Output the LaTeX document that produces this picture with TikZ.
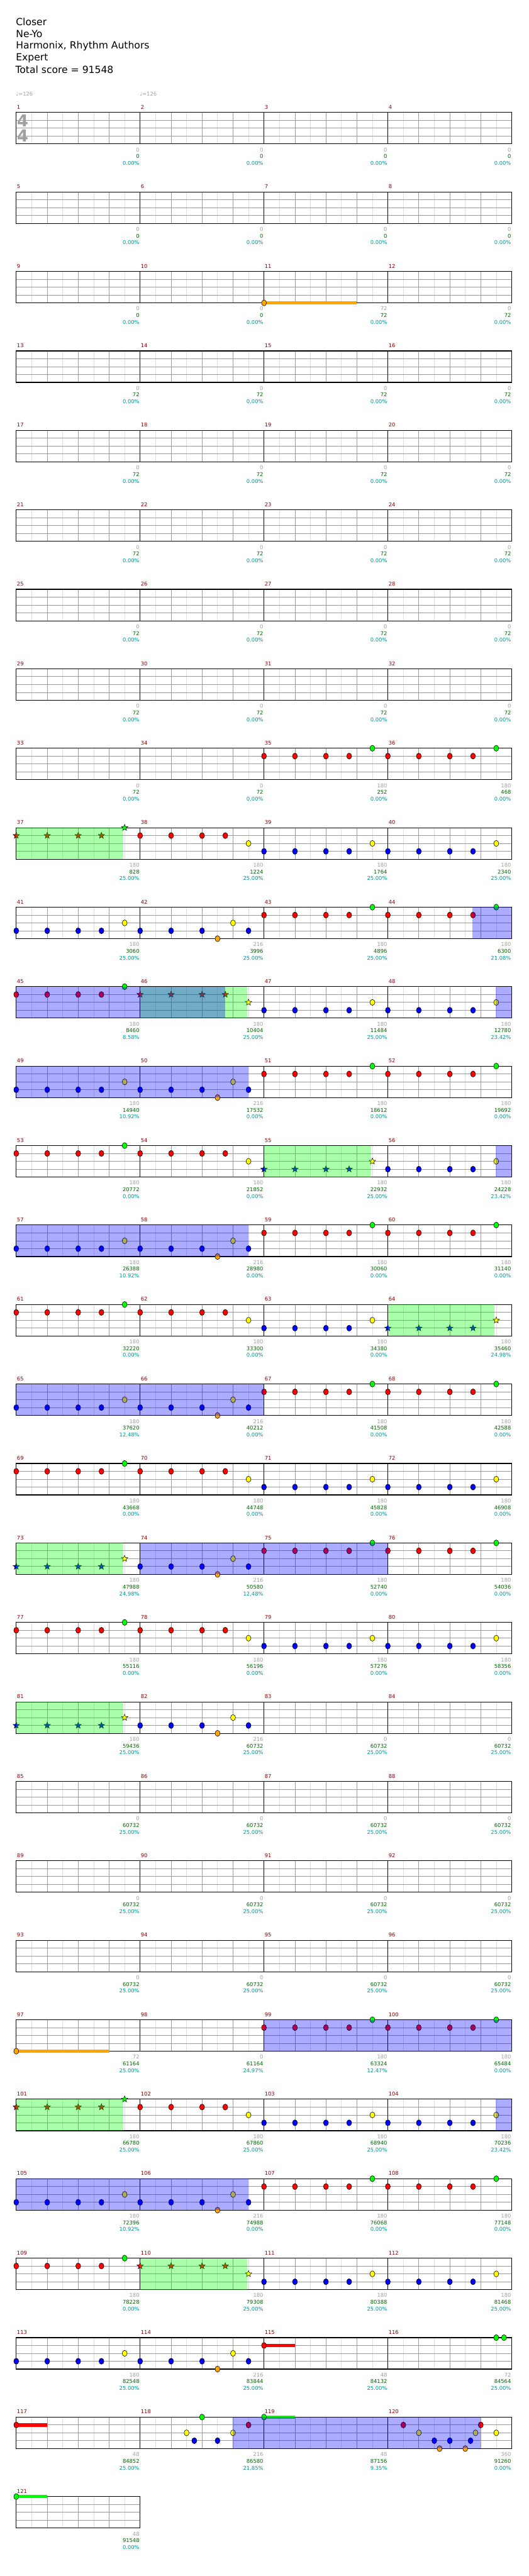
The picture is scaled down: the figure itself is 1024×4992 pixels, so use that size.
\documentclass[tikz,border=0pt]{standalone}
\usepackage{fontspec}
\setmainfont{DejaVu Sans}
\usetikzlibrary{shapes.geometric}

\definecolor{barnum}{RGB}{139,0,0}
\definecolor{softgray}{RGB}{160,160,160}
\definecolor{gridgray}{RGB}{155,155,155}
\definecolor{halfgray}{RGB}{222,222,222}
\definecolor{scoregreen}{RGB}{0,100,0}
\definecolor{scorecyan}{RGB}{0,150,150}
\definecolor{lane0}{RGB}{0,255,0}
\definecolor{lane1}{RGB}{255,0,0}
\definecolor{lane2}{RGB}{255,255,0}
\definecolor{lane3}{RGB}{0,0,255}
\definecolor{lane4}{RGB}{255,165,0}

% note patterns, beat/lane/kind
\newcommand{\pRG}{0/1/gem,1/1/gem,2/1/gem,2.75/1/gem,3.5/0/gem}
\newcommand{\pRY}{0/1/gem,1/1/gem,2/1/gem,2.75/1/gem,3.5/2/gem}
\newcommand{\pBY}{0/3/gem,1/3/gem,2/3/gem,2.75/3/gem,3.5/2/gem}
\newcommand{\pBO}{0/3/gem,1/3/gem,2/3/gem,2.5/4/gem,3/2/gem,3.5/3/gem}
\newcommand{\pSRG}{0/1/spg,1/1/spg,2/1/spg,2.75/1/spg,3.5/0/spg}
\newcommand{\pSRY}{0/1/spg,1/1/spg,2/1/spg,2.75/1/spg,3.5/2/spg}
\newcommand{\pSBY}{0/3/spg,1/3/spg,2/3/spg,2.75/3/spg,3.5/2/spg}
\newcommand{\pGG}{3.5/0/gem,3.75/0/gem}
\newcommand{\pRUN}{1.5/2/gem,1.75/3/gem,2/0/gem,2.5/3/gem,3/2/gem,3.5/1/gem}
\newcommand{\pFILL}{0.5/1/gem,1/2/gem,1.5/3/gem,1.67/4/gem,2/3/gem,2.5/4/gem,2.67/3/gem,2.83/2/gem,3/1/gem,3.5/2/gem}

% measure origin
\newcommand{\setmeas}[1]{%
  \pgfmathsetmacro{\mx}{31.5+240*mod(#1-1,4)}%
  \pgfmathsetmacro{\my}{218+154*int((#1-1)/4)}%
}

% one staff row: row, measures
\newcommand{\staffrow}[2]{%
  \pgfmathsetmacro{\sy}{218+154*#1}%
  \pgfmathtruncatemacro{\nh}{8*#2-1}%
  \pgfmathtruncatemacro{\nb}{4*#2-1}%
  \foreach \hx in {1,...,\nh} {\draw[halfline] (31.5+30*\hx,\sy) -- ++(0,61);}%
  \foreach \hx in {1,...,\nb} {\draw[gridline] (31.5+60*\hx,\sy) -- ++(0,61);}%
  \foreach \hy in {1,2,3} {\draw[gridline] (31.5,\sy+15.25*\hy) -- ++(240*#2,0);}%
  \ifnum#2=4 \foreach \hx in {1,2,3} {\draw[barline] (31.5+240*\hx,\sy) -- ++(0,61);}\fi
  \draw[staffedge] (31.5,\sy) rectangle ++(240*#2,61);
}

% notes of one measure: measure, pattern
\newcommand{\playbar}[2]{%
  \setmeas{#1}%
  \edef\plist{\csname p#2\endcsname}%
  \foreach \beat/\lane/\kind in \plist {%
    \node[\kind, fill=lane\lane] at (\mx+60*\beat,\my+15.25*\lane) {};}%
}

% held note: measure, lane, end beat
\newcommand{\sustain}[3]{%
  \setmeas{#1}%
  \fill[lane#2] (\mx,\my+15.25*#2-3.25) rectangle (\mx+60*#3,\my+15.25*#2+3.25);
  \node[gem, fill=lane#2] at (\mx,\my+15.25*#2) {};
}

% shaded spans: from measure, beat, to measure, beat
\newcommand{\overdrive}[4]{%
  \setmeas{#1}\let\ax\mx\let\ay\my\setmeas{#3}%
  \fill[lane3, opacity=0.33] (\ax+60*#2,\ay) rectangle (\mx+60*#4,\my+61);
}
\newcommand{\starpower}[4]{%
  \setmeas{#1}\let\ax\mx\let\ay\my\setmeas{#3}%
  \fill[lane0, opacity=0.33] (\ax+60*#2,\ay) rectangle (\mx+60*#4,\my+61);
}

% score lines under a measure
\newcommand{\scores}[4]{%
  \setmeas{#1}%
  \node[ptsnum] (pts#1) at (\mx+239,\my+76) {#2};
  \node[sumnum] (sum#1) at (\mx+239,\my+89) {#3};
  \node[pctnum] (pct#1) at (\mx+239,\my+102) {#4\%};
}

\begin{document}
\begin{tikzpicture}[x=0.5pt, y=-0.5pt,
    halfline/.style={draw=halfgray, line width=0.5pt},
    gridline/.style={draw=gridgray, line width=0.5pt},
    barline/.style={draw=black, line width=0.5pt},
    staffedge/.style={draw=black, line width=0.7pt},
    gem/.style={ellipse, draw=black, line width=0.35pt, inner sep=0pt,
      minimum width=4.8pt, minimum height=5.8pt},
    spg/.style={star, star points=5, star point ratio=2.3, draw=black,
      line width=0.3pt, inner sep=0pt, minimum size=6.5pt},
    small/.style={inner sep=0pt, font=\fontsize{5.1}{6}\selectfont},
    barlabel/.style={small, anchor=base west, text=barnum},
    ptsnum/.style={small, anchor=base east, text=softgray},
    sumnum/.style={small, anchor=base east, text=scoregreen},
    pctnum/.style={small, anchor=base east, text=scorecyan},
    header/.style={anchor=base west, inner sep=0pt, font=\fontsize{9.5}{11}\selectfont}]
    \useasboundingbox[fill=white] (0,0) rectangle (1024,4992);

    % Song info
    \node[header] (title) at (30.5,49) {Closer};
    \node[header] (artist) at (30.5,72) {Ne-Yo};
    \node[header] (charter) at (30.5,95) {Harmonix, Rhythm Authors};
    \node[header] (level) at (30.5,118) {Expert};
    \node[header] (total) at (29.5,141.5) {Total score = 91548};

    % Tempo
    \node[small, anchor=base west, text=softgray] (tempo1) at (30.5,186) {♩=126};
    \node[small, anchor=base west, text=softgray] (tempo2) at (270.5,186) {♩=126};

    % Staves
    \foreach \r in {0,...,29} {\staffrow{\r}{4}}
    \staffrow{30}{1}

    % Time signature
    \node[inner sep=0pt, text=softgray, font=\fontsize{16}{16}\bfseries] (tsigtop) at (44,233.5) {4};
    \node[inner sep=0pt, text=softgray, font=\fontsize{16}{16}\bfseries] (tsigbot) at (44,263.5) {4};

    % Held notes
    \sustain{11}{4}{3}
    \sustain{97}{4}{3}
    \sustain{115}{1}{1}
    \sustain{117}{1}{1}
    \sustain{119}{0}{1}
    \sustain{121}{0}{1}

    % Notes
    \foreach \m/\pat in {35/RG,36/RG,37/SRG,38/RY,39/BY,40/BY,41/BY,42/BO,43/RG,44/RG,
        45/RG,46/SRY,47/BY,48/BY,49/BY,50/BO,51/RG,52/RG,53/RG,54/RY,55/SBY,56/BY,
        57/BY,58/BO,59/RG,60/RG,61/RG,62/RY,63/BY,64/SBY,65/BY,66/BO,67/RG,68/RG,
        69/RG,70/RY,71/BY,72/BY,73/SBY,74/BO,75/RG,76/RG,77/RG,78/RY,79/BY,80/BY,
        81/SBY,82/BO,99/RG,100/RG,101/SRG,102/RY,103/BY,104/BY,105/BY,106/BO,
        107/RG,108/RG,109/RG,110/SRY,111/BY,112/BY,113/BY,114/BO,116/GG,118/RUN,120/FILL}
        {\playbar{\m}{\pat}}

    % Star power
    \starpower{37}{0}{37}{3.45}
    \starpower{46}{0}{46}{3.45}
    \starpower{55}{0}{55}{3.45}
    \starpower{64}{0}{64}{3.45}
    \starpower{73}{0}{73}{3.45}
    \starpower{81}{0}{81}{3.45}
    \starpower{101}{0}{101}{3.45}
    \starpower{110}{0}{110}{3.45}

    % Overdrive
    \overdrive{44}{2.73}{44}{4}
    \overdrive{45}{0}{46}{2.75}
    \overdrive{48}{3.48}{48}{4}
    \overdrive{49}{0}{50}{3.5}
    \overdrive{56}{3.48}{56}{4}
    \overdrive{57}{0}{58}{3.5}
    \overdrive{65}{0}{66}{4}
    \overdrive{74}{0}{75}{4}
    \overdrive{99}{0}{100}{4}
    \overdrive{104}{3.48}{104}{4}
    \overdrive{105}{0}{106}{3.5}
    \overdrive{118}{3}{120}{3}

    % Measure numbers
    \foreach \m in {1,...,121} {\setmeas{\m}\node[barlabel] (bar\m) at (\mx+1,\my-6.5) {\m};}

    % Scores
    \foreach \m in {1,...,10} {\scores{\m}{0}{0}{0.00}}
    \scores{11}{72}{72}{0.00}
    \scores{12}{0}{72}{0.00}
    \foreach \m in {13,...,34} {\scores{\m}{0}{72}{0.00}}
    \foreach \m/\g/\s/\pc in {35/180/252/0.00,36/180/468/0.00,37/180/828/25.00,
        38/180/1224/25.00,39/180/1764/25.00,40/180/2340/25.00,41/180/3060/25.00,
        42/216/3996/25.00,43/180/4896/25.00,44/180/6300/21.08,45/180/8460/8.58,
        46/180/10404/25.00,47/180/11484/25.00,48/180/12780/23.42,49/180/14940/10.92,
        50/216/17532/0.00,51/180/18612/0.00,52/180/19692/0.00,53/180/20772/0.00,
        54/180/21852/0.00,55/180/22932/25.00,56/180/24228/23.42,57/180/26388/10.92,
        58/216/28980/0.00,59/180/30060/0.00,60/180/31140/0.00,61/180/32220/0.00,
        62/180/33300/0.00,63/180/34380/0.00,64/180/35460/24.98,65/180/37620/12.48,
        66/216/40212/0.00,67/180/41508/0.00,68/180/42588/0.00,69/180/43668/0.00,
        70/180/44748/0.00,71/180/45828/0.00,72/180/46908/0.00,73/180/47988/24.98,
        74/216/50580/12.48,75/180/52740/0.00,76/180/54036/0.00,77/180/55116/0.00,
        78/180/56196/0.00,79/180/57276/0.00,80/180/58356/0.00,81/180/59436/25.00,
        82/216/60732/25.00}
        {\scores{\m}{\g}{\s}{\pc}}
    \foreach \m in {83,...,96} {\scores{\m}{0}{60732}{25.00}}
    \foreach \m/\g/\s/\pc in {97/72/61164/25.00,98/0/61164/24.97,99/180/63324/12.47,
        100/180/65484/0.00,101/180/66780/25.00,102/180/67860/25.00,103/180/68940/25.00,
        104/180/70236/23.42,105/180/72396/10.92,106/216/74988/0.00,107/180/76068/0.00,
        108/180/77148/0.00,109/180/78228/0.00,110/180/79308/25.00,111/180/80388/25.00,
        112/180/81468/25.00,113/180/82548/25.00,114/216/83844/25.00,115/48/84132/25.00,
        116/72/84564/25.00,117/48/84852/25.00,118/216/86580/21.85,119/48/87156/9.35,
        120/360/91260/0.00,121/48/91548/0.00}
        {\scores{\m}{\g}{\s}{\pc}}
\end{tikzpicture}
\end{document}
